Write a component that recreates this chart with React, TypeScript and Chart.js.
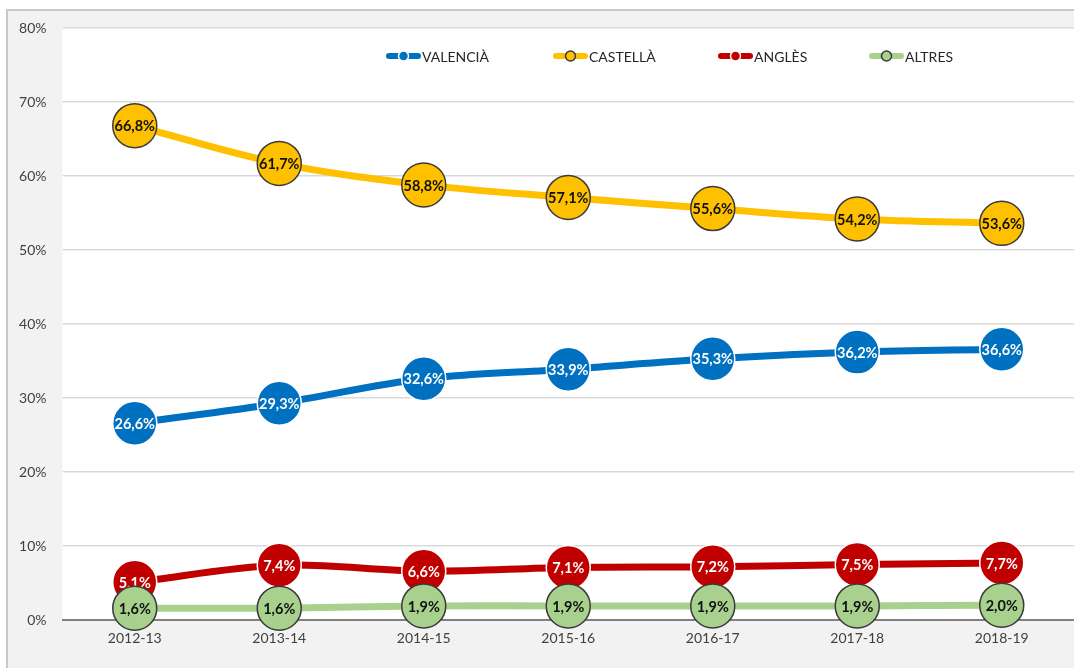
import React, { useEffect, useRef } from "react";
import { Chart, registerables } from "chart.js";

Chart.register(...registerables);

const categories = ["2012-13", "2013-14", "2014-15", "2015-16", "2016-17", "2017-18", "2018-19"];
const valencia = [26.6, 29.3, 32.6, 33.9, 35.3, 36.2, 36.6];
const castella = [66.8, 61.7, 58.8, 57.1, 55.6, 54.2, 53.6];
const angles = [5.1, 7.4, 6.6, 7.1, 7.2, 7.5, 7.7];
const altres = [1.6, 1.6, 1.9, 1.9, 1.9, 1.9, 2.0];
const seriesNames = ["VALENCIÀ", "CASTELLÀ", "ANGLÈS", "ALTRES"];
const yTicks = [0, 10, 20, 30, 40, 50, 60, 70, 80];

const FONT = "Lato, 'Open Sans', sans-serif";

const styles = [
  { color: "#0070c0", border: "#ffffff", label: "#ffffff" },
  { color: "#ffc000", border: "#3a3a3a", label: "#111111" },
  { color: "#c00000", border: "#ffffff", label: "#ffffff" },
  { color: "#a9d18e", border: "#3a3a3a", label: "#111111" },
];

const fmt = (v: number) => v.toFixed(1).replace(".", ",") + "%";

const bgPlugin = {
  id: "bgPlugin",
  beforeDraw(chart: any) {
    const { ctx, chartArea, width, height } = chart;
    ctx.save();
    ctx.fillStyle = "#ffffff";
    ctx.fillRect(0, 0, width, height);
    ctx.fillStyle = "#f2f2f2";
    ctx.fillRect(7, 10, width, height);
    ctx.strokeStyle = "#c8c8c8";
    ctx.lineWidth = 2;
    ctx.beginPath();
    ctx.moveTo(7, height);
    ctx.lineTo(7, 10);
    ctx.lineTo(width, 10);
    ctx.stroke();
    ctx.fillStyle = "#ffffff";
    ctx.fillRect(chartArea.left, chartArea.top, width - chartArea.left, chartArea.bottom - chartArea.top);
    ctx.restore();
  },
};

const labelPlugin = {
  id: "labelPlugin",
  afterDatasetDraw(chart: any, args: any) {
    const meta = args.meta;
    const idx = meta.index;
    const ds = chart.data.datasets[idx];
    const { ctx } = chart;
    ctx.save();
    ctx.font = `bold 14.5px ${FONT}`;
    ctx.textAlign = "center";
    ctx.textBaseline = "middle";
    ctx.fillStyle = styles[idx].label;
    meta.data.forEach((pt: any, i: number) => {
      ctx.fillText(fmt(ds.data[i]), pt.x, pt.y + 1);
    });
    ctx.restore();
  },
};

const legendPlugin = {
  id: "legendPlugin",
  afterDraw(chart: any) {
    const { ctx } = chart;
    const xs = [386, 553, 718, 869];
    const y = 56;
    ctx.save();
    seriesNames.forEach((name, i) => {
      const x = xs[i];
      const s = styles[i];
      ctx.strokeStyle = s.color;
      ctx.lineWidth = 6;
      ctx.lineCap = "round";
      ctx.beginPath();
      ctx.moveTo(x + 3, y);
      ctx.lineTo(x + 32, y);
      ctx.stroke();
      ctx.beginPath();
      ctx.arc(x + 17.5, y, 5, 0, Math.PI * 2);
      ctx.fillStyle = s.color;
      ctx.fill();
      ctx.lineWidth = 1.5;
      ctx.strokeStyle = s.border;
      ctx.stroke();
      ctx.fillStyle = "#262626";
      ctx.font = `14px ${FONT}`;
      ctx.textAlign = "left";
      ctx.textBaseline = "middle";
      ctx.fillText(name, x + 36, y + 1);
    });
    ctx.restore();
  },
};

export default function App() {
  const ref = useRef<HTMLCanvasElement>(null);
  useEffect(() => {
    if (!ref.current) return;
    const all = [valencia, castella, angles, altres];
    const chart = new Chart(ref.current, {
      type: "line",
      data: {
        labels: categories,
        datasets: all.map((d, i) => ({
          label: seriesNames[i],
          data: d,
          order: 3 - i,
          borderColor: styles[i].color,
          backgroundColor: styles[i].color,
          borderWidth: 7,
          tension: 0.35,
          pointRadius: 22,
          pointHoverRadius: 22,
          pointBackgroundColor: styles[i].color,
          pointBorderColor: styles[i].border,
          pointBorderWidth: 1.5,
          fill: false,
          clip: 30,
        })),
      },
      options: {
        animation: false,
        responsive: false,
        devicePixelRatio: 1,
        layout: { autoPadding: false, padding: { top: 28, right: -1.5, bottom: 8, left: 0 } },
        plugins: {
          legend: { display: false },
          tooltip: { enabled: false },
          title: { display: false },
        },
        scales: {
          x: {
            offset: true,
            grid: { display: false, drawTicks: false },
            border: { display: true, color: "#808080", width: 2 },
            ticks: {
              padding: 10,
              color: "#404040",
              font: { family: FONT, size: 14 },
              maxRotation: 0,
            },
            afterFit(scale: any) {
              scale.height = 40;
            },
          },
          y: {
            min: 0,
            max: 80,
            afterBuildTicks(scale: any) {
              scale.ticks = yTicks.map((v) => ({ value: v }));
            },
            grid: {
              drawTicks: false,
              color: (c: any) => (c.tick && c.tick.value === 0 ? "#808080" : "#d9d9d9"),
              lineWidth: (c: any) => (c.tick && c.tick.value === 0 ? 2 : 1.5),
            },
            border: { display: false },
            ticks: {
              padding: 16,
              color: "#404040",
              font: { family: FONT, size: 14 },
              callback: (v: any) => v + "%",
            },
            afterFit(scale: any) {
              scale.width = 62.5;
            },
          },
        },
      },
      plugins: [bgPlugin, labelPlugin, legendPlugin],
    });
    return () => chart.destroy();
  }, []);

  return (
    <div style={{ position: "fixed", left: 0, top: 0, width: 1074, height: 668, overflow: "hidden", background: "#fff" }}>
      <canvas ref={ref} width={1074} height={668} style={{ display: "block", width: 1074, height: 668 }} />
    </div>
  );
}
